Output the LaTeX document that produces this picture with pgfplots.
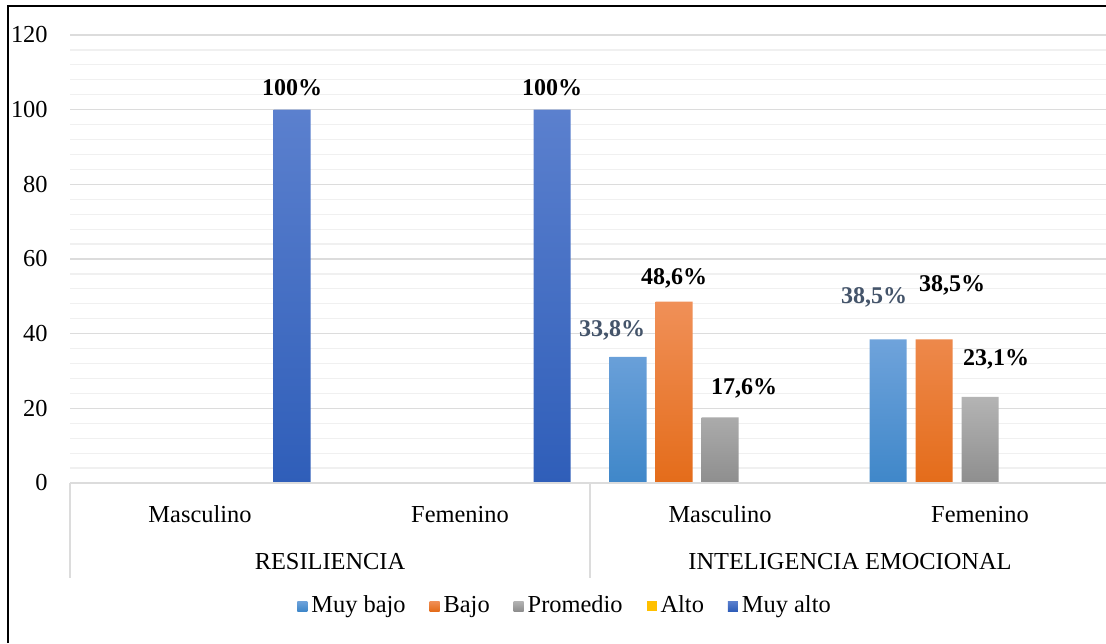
\documentclass[border=0pt]{standalone}
\usepackage{fontspec}
\setmainfont{Liberation Serif}
\usepackage{pgfplots}
\pgfplotsset{compat=1.18}
\definecolor{mbT}{HTML}{6FA3DB}
\definecolor{mbB}{HTML}{3F87C9}
\definecolor{bjT}{HTML}{F09058}
\definecolor{bjB}{HTML}{E46C1A}
\definecolor{prT}{HTML}{B4B4B4}
\definecolor{prB}{HTML}{8E8E8E}
\definecolor{alC}{HTML}{FFC000}
\definecolor{maT}{HTML}{5B80CE}
\definecolor{maB}{HTML}{2F5EB9}
\definecolor{slate}{HTML}{44546A}
\definecolor{gridmaj}{HTML}{DCDCDC}
\definecolor{gridmin}{HTML}{F0F0F0}
\begin{document}
\begin{tikzpicture}[x=1pt,y=1pt]
\useasboundingbox (0,0) rectangle (553,321.5);
\clip (0,0) rectangle (553,321.5);
\fill[white] (0,0) rectangle (553,321.5);
\begin{axis}[
  at={(35pt,80pt)}, anchor=south west,
  scale only axis, width=520pt, height=224pt,
  xmin=-0.5, xmax=3.5, ymin=0, ymax=120,
  axis line style={draw=none},
  ytick={0,20,...,120},
  minor y tick num=4,
  ymajorgrids, yminorgrids,
  major grid style={color=gridmaj, line width=0.6pt},
  minor grid style={color=gridmin, line width=0.6pt},
  major tick length=0pt, minor tick length=0pt,
  tick style={draw=none},
  xtick={0,1,2,3},
  xticklabels={Masculino,Femenino,Masculino,Femenino},
  ticklabel style={font=\fontsize{12.2}{14}\selectfont},
  xticklabel style={anchor=base, yshift=-19.5pt},
  yticklabel style={anchor=east, inner sep=0pt, xshift=-11pt},
  /pgf/number format/assume math mode=true,
  ybar, bar width=18.5pt,
  clip=false,
  legend style={at={(0.477,-0.2746)}, anchor=center, draw=none, fill=none,
    legend columns=-1, font=\fontsize{12.2}{14}\selectfont,
    /tikz/every even column/.append style={column sep=10pt},
    inner sep=0pt},
  legend image code/.code={\path[#1,draw=none] (0pt,-2.5pt) rectangle (5pt,2.5pt);},
]
\addplot[draw=none, top color=mbT, bottom color=mbB, bar shift=-46pt] coordinates {(2,33.8) (3,38.5)};
\addlegendentry{Muy bajo}
\addplot[draw=none, top color=bjT, bottom color=bjB, bar shift=-23pt] coordinates {(2,48.6) (3,38.5)};
\addlegendentry{Bajo}
\addplot[draw=none, top color=prT, bottom color=prB, bar shift=0pt] coordinates {(2,17.6) (3,23.1)};
\addlegendentry{Promedio}
\addlegendimage{fill=alC}
\addlegendentry{Alto}
\addplot[draw=none, top color=maT, bottom color=maB, bar shift=46pt] coordinates {(0,100) (1,100)};
\addlegendentry{Muy alto}

\draw[gridmaj, line width=0.8pt] (axis cs:-0.5,0) -- (axis cs:3.5,0);
\draw[gridmaj, line width=0.8pt] (axis cs:-0.5,0) -- ++(0pt,-47.5pt);
\draw[gridmaj, line width=0.8pt] (axis cs:1.5,0) -- ++(0pt,-47.5pt);
\draw[gridmaj, line width=0.8pt] (axis cs:3.5,0) -- ++(0pt,-47.5pt);

\node[anchor=base, font=\fontsize{12.2}{14}\selectfont] at (axis cs:0.5,0) [yshift=-43pt] {RESILIENCIA};
\node[anchor=base, font=\fontsize{12.2}{14}\selectfont] at (axis cs:2.5,0) [yshift=-43pt] {INTELIGENCIA EMOCIONAL};

\begin{scope}[every node/.style={font=\bfseries\fontsize{12}{14}\selectfont, inner sep=0pt}]
\node[text=slate] at (axis cs:2,33.8) [xshift=-54pt, yshift=13pt] {33,8\%};
\node[text=slate] at (axis cs:3,38.5) [xshift=-53pt, yshift=21pt] {38,5\%};
\node at (axis cs:2,48.6) [xshift=-23pt, yshift=11.5pt] {48,6\%};
\node at (axis cs:3,38.5) [xshift=-14pt, yshift=27pt] {38,5\%};
\node at (axis cs:2,17.6) [xshift=12pt, yshift=14.5pt] {17,6\%};
\node at (axis cs:3,23.1) [xshift=8pt, yshift=18.5pt] {23,1\%};
\node at (axis cs:0,100) [xshift=46pt, yshift=11pt] {100\%};
\node at (axis cs:1,100) [xshift=46pt, yshift=11pt] {100\%};
\end{scope}
\end{axis}
\draw[black, line width=1pt] (4,0) -- (4,318.5) -- (553,318.5);
\end{tikzpicture}
\end{document}
